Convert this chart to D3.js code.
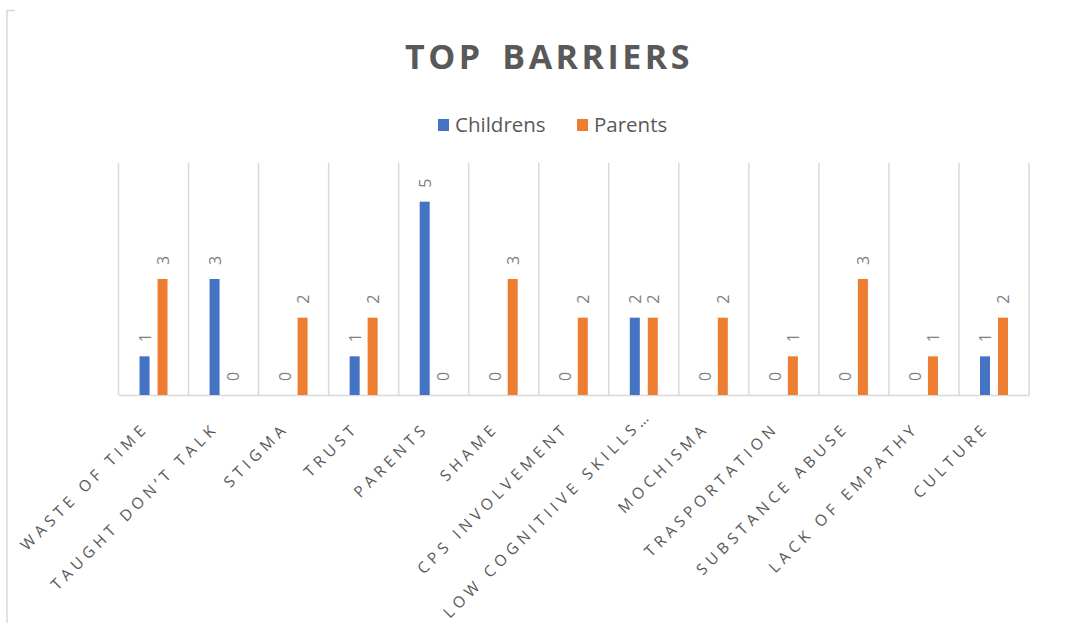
<!DOCTYPE html>
<html>
<head>
<meta charset="utf-8">
<script src="https://cdn.jsdelivr.net/npm/d3@7"></script>
<style>
  html, body { margin: 0; padding: 0; background: #fff; }
  svg { display: block; }
</style>
</head>
<body>
<svg id="chart" width="1081" height="623"></svg>
<script>
// Barrier categories and counts per group
const categories = [
  "WASTE OF TIME", "TAUGHT DON\u2019T TALK", "STIGMA", "TRUST", "PARENTS", "SHAME",
  "CPS INVOLVEMENT", "LOW COGNITIIVE SKILLS\u2026", "MOCHISMA", "TRASPORTATION",
  "SUBSTANCE ABUSE", "LACK OF EMPATHY", "CULTURE"
];
const seriesNames = ["Childrens", "Parents"];
const childrens = [1, 3, 0, 1, 5, 0, 0, 2, 0, 0, 0, 0, 1];
const parents   = [3, 0, 2, 2, 0, 3, 2, 2, 2, 1, 3, 1, 2];
const colors = ["#4472C4", "#ED7D31"];
const yMax = 6;

const series = [childrens, parents];
const rows = categories.map((c, i) => ({ category: c, values: series.map(s => s[i]) }));

const svg = d3.select("#chart");
const margin = { left: 118.5, right: 52, top: 163, bottom: 228 };
const width = 1081, height = 623;
const plotBottom = height - margin.bottom;   // 395

const x = d3.scaleBand().domain(categories).range([margin.left, width - margin.right]).padding(0);
const y = d3.scaleLinear().domain([0, yMax]).range([plotBottom, margin.top]);
const x1 = d3.scaleBand().domain(seriesNames).range([-14, 14]).paddingInner(0.444).paddingOuter(0);

const textGray = "#595959";
const gridGray = "#d9d9d9";

// Chart frame edge
svg.append("path")
  .attr("d", "M7,623 V10.5 H15")
  .attr("fill", "none")
  .attr("stroke", gridGray)
  .attr("stroke-width", 1.5);

// Title
svg.append("text")
  .attr("x", 549)
  .attr("y", 69)
  .attr("text-anchor", "middle")
  .attr("font-family", "'Open Sans', sans-serif")
  .attr("font-weight", 700)
  .attr("font-size", 34)
  .attr("letter-spacing", 3.5)
  .attr("word-spacing", -3)
  .attr("fill", textGray)
  .attr("xml:space", "preserve")
  .text("TOP  BARRIERS");

// Legend
const legend = svg.append("g").attr("font-family", "'Open Sans', sans-serif").attr("font-size", 20.5).attr("fill", textGray);
const legendX = [438, 577];
seriesNames.forEach((name, i) => {
  legend.append("rect").attr("x", legendX[i]).attr("y", 119).attr("width", 11).attr("height", 12).attr("fill", colors[i]);
  legend.append("text").attr("x", legendX[i] + 17).attr("y", 131.5).text(name);
});

// Vertical category dividers
const edges = categories.map(c => x(c)).concat([x(categories[categories.length - 1]) + x.bandwidth()]);
svg.append("g").selectAll("line").data(edges).join("line")
  .attr("x1", d => d).attr("x2", d => d)
  .attr("y1", margin.top).attr("y2", plotBottom)
  .attr("stroke", gridGray).attr("stroke-width", 1.5);

// Category axis with labels at -45°
const xAxis = d3.axisBottom(x).tickSize(0).tickPadding(0);
const gx = svg.append("g").attr("transform", `translate(0,${plotBottom})`).call(xAxis);
gx.select(".domain").attr("stroke", gridGray).attr("stroke-width", 1.5);
const labelDx = -4, labelDy = 34, bottomLimit = height - 4 - plotBottom;
gx.selectAll(".tick text")
  .attr("font-family", "'Open Sans', sans-serif")
  .attr("font-size", 15.5)
  .attr("letter-spacing", 4.6)
  .attr("fill", textGray)
  .attr("text-anchor", "end")
  .attr("y", 0)
  .attr("dy", 0)
  .attr("transform", function () {
    // slide long labels up along their own direction so they stay inside the frame
    const run = this.getComputedTextLength() * Math.SQRT1_2;
    const over = Math.max(0, labelDy + run - bottomLimit);
    return `translate(${labelDx + over},${labelDy - over}) rotate(-45)`;
  });

// Bars
const groups = svg.append("g").selectAll("g").data(rows).join("g")
  .attr("transform", d => `translate(${x(d.category) + x.bandwidth() / 2},0)`);

groups.selectAll("rect").data(d => d.values.map((v, i) => ({ v, s: seriesNames[i], i })))
  .join("rect")
  .attr("x", d => x1(d.s))
  .attr("width", x1.bandwidth())
  .attr("y", d => y(d.v))
  .attr("height", d => y(0) - y(d.v))
  .attr("fill", d => colors[d.i]);

// Value labels, rotated
groups.selectAll("text").data(d => d.values.map((v, i) => ({ v, s: seriesNames[i], i })))
  .join("text")
  .attr("transform", d => `translate(${x1(d.s) + x1.bandwidth() / 2},${y(d.v) - 14}) rotate(-90)`)
  .attr("text-anchor", "start")
  .attr("dominant-baseline", "central")
  .attr("font-family", "'Open Sans', sans-serif")
  .attr("font-size", 16)
  .attr("fill", "#7f7f7f")
  .text(d => d.v);
</script>
</body>
</html>
